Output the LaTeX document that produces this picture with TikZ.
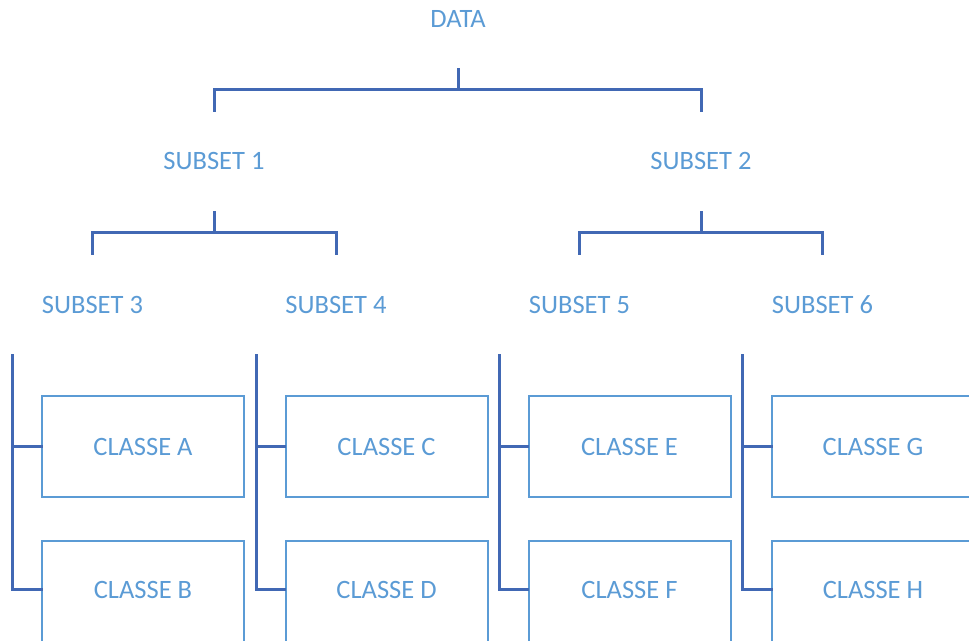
\documentclass[tikz,border=0pt]{standalone}
\usepackage{fontspec}
\setmainfont{Carlito}
\definecolor{labelblue}{HTML}{5B9BD5}
\definecolor{linkblue}{HTML}{4168B4}
\tikzset{
  lbl/.style={text=labelblue, font=\fontsize{26.5}{30}\selectfont, inner sep=0pt},
  classbox/.style={lbl, draw=labelblue, line width=2pt, minimum width=202pt, minimum height=101pt},
  % lower boxes run off the page; their text sits a little above centre
  lowbox/.style={classbox, minimum height=102pt, text depth=4pt}
}
\tikzset{conn/.style={draw=linkblue, line width=3pt, line cap=rect}}
\begin{document}
\begin{tikzpicture}[x=1pt, y=-1pt]
\useasboundingbox (0,0) rectangle (969,640);
\clip (0,0) rectangle (969,640);

% labels
\node[lbl] (data) at (458,18.5) {DATA};
\node[lbl] (s1) at (214,160.5) {SUBSET 1};
\node[lbl] (s2) at (701,160.5) {SUBSET 2};
\node[lbl] (s3) at (92.5,304.5) {SUBSET 3};
\node[lbl] (s4) at (336,304.5) {SUBSET 4};
\node[lbl] (s5) at (579.5,304.5) {SUBSET 5};
\node[lbl] (s6) at (822.5,304.5) {SUBSET 6};

% class boxes
\node[classbox] (A) at (143,446.5) {CLASSE A};
\node[lowbox] (B) at (143,591.5) {CLASSE B};
\node[classbox] (C) at (386.5,446.5) {CLASSE C};
\node[lowbox] (D) at (386.5,591.5) {CLASSE D};
\node[classbox] (E) at (629.5,446.5) {CLASSE E};
\node[lowbox] (F) at (629.5,591.5) {CLASSE F};
\node[classbox] (G) at (873,446.5) {CLASSE G};
\node[lowbox] (H) at (873,591.5) {CLASSE H};

% bracket from DATA to subsets 1 and 2
\coordinate (dstub) at (458,69);
\coordinate (dbar) at (458,89);
\coordinate (s1in) at (214,110);
\coordinate (s2in) at (701,110);
\draw[conn] (dstub) -- (dbar);
\draw[conn] (s1in) |- (dbar) -| (s2in);

% bracket from subset 1 to subsets 3 and 4
\coordinate (s1stub) at (214,212);
\coordinate (s1bar) at (214,232);
\coordinate (s3in) at (92.5,253);
\coordinate (s4in) at (336,253);
\draw[conn] (s1stub) -- (s1bar);
\draw[conn] (s3in) |- (s1bar) -| (s4in);

% bracket from subset 2 to subsets 5 and 6
\coordinate (s2stub) at (701,212);
\coordinate (s2bar) at (701,232);
\coordinate (s5in) at (579.5,253);
\coordinate (s6in) at (822.5,253);
\draw[conn] (s2stub) -- (s2bar);
\draw[conn] (s5in) |- (s2bar) -| (s6in);

% lanes feeding the class boxes
\coordinate (lane3) at (12.5,355);
\coordinate (lane4) at (256,355);
\coordinate (lane5) at (499,355);
\coordinate (lane6) at (742,355);
\draw[conn] (lane3) |- ([yshift=2.5pt]B.west);
\draw[conn] (lane3 |- A.west) -- (A.west);
\draw[conn] (lane4) |- ([yshift=2.5pt]D.west);
\draw[conn] (lane4 |- C.west) -- (C.west);
\draw[conn] (lane5) |- ([yshift=2.5pt]F.west);
\draw[conn] (lane5 |- E.west) -- (E.west);
\draw[conn] (lane6) |- ([yshift=2.5pt]H.west);
\draw[conn] (lane6 |- G.west) -- (G.west);
\end{tikzpicture}
\end{document}
